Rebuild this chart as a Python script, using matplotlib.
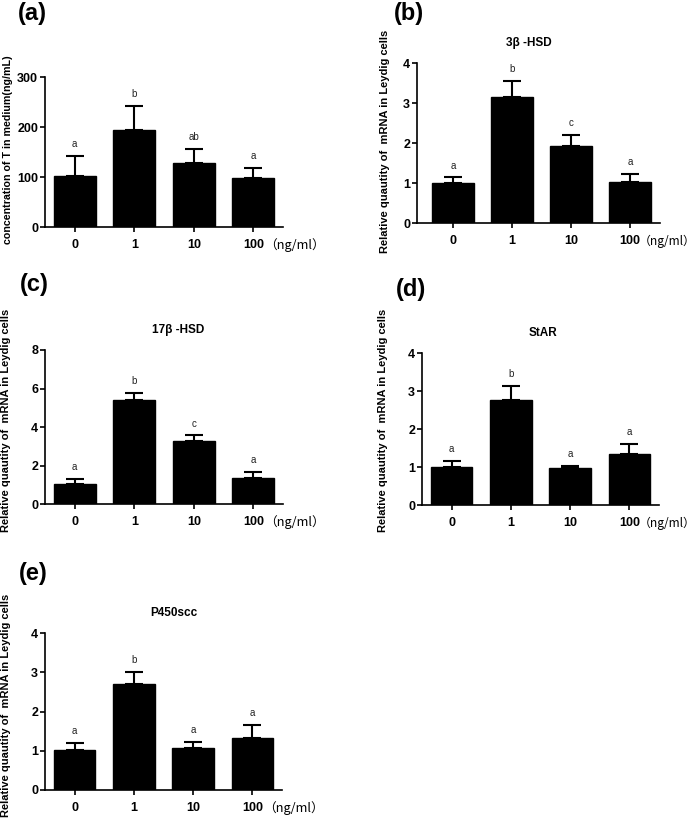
import matplotlib
matplotlib.use("Agg")
import matplotlib.pyplot as plt
from matplotlib import font_manager
import numpy as np

# keep the narrow variant from being picked for bold text
font_manager.fontManager.ttflist = [f for f in font_manager.fontManager.ttflist
                                    if 'Narrow' not in f.fname]
font_manager.fontManager._findfont_cached.cache_clear()
plt.rcParams['font.family'] = ['Liberation Sans', 'DejaVu Sans']

doses = ['0', '1', '10', '100']

t_mean = [102, 194, 128, 99]
t_err = [40, 49, 28, 20]
t_letters = ['a', 'b', 'ab', 'a']

hsd3_mean = [1.01, 3.15, 1.93, 1.03]
hsd3_err = [0.13, 0.41, 0.27, 0.19]
hsd3_letters = ['a', 'b', 'c', 'a']

hsd17_mean = [1.05, 5.41, 3.25, 1.36]
hsd17_err = [0.25, 0.38, 0.31, 0.30]
hsd17_letters = ['a', 'b', 'c', 'a']

star_mean = [1.01, 2.77, 0.97, 1.35]
star_err = [0.14, 0.37, 0.06, 0.26]
star_letters = ['a', 'b', 'a', 'a']

p450_mean = [1.01, 2.70, 1.06, 1.32]
p450_err = [0.19, 0.30, 0.16, 0.34]
p450_letters = ['a', 'b', 'a', 'a']

W, H = 697, 826
fig = plt.figure(figsize=(W / 100, H / 100), dpi=100)
unit_texts = []


def px_axes(left, right, top, bottom):
    # pixel box -> figure fraction
    return fig.add_axes([left / W, 1 - bottom / H, (right - left) / W, (bottom - top) / H])


def draw_panel(ax, means, errs, letters, ymax, ystep, xlim=(-0.5, 3.5), unit_dx=8, unit_fs=9.2):
    x = np.arange(len(doses))
    ax.bar(x, means, width=0.7, color='black', edgecolor='black', zorder=2)
    ax.errorbar(x, means, yerr=[np.zeros(len(errs)), errs], fmt='none',
                ecolor='black', elinewidth=1.5, capsize=6.5, capthick=1.5, zorder=3)
    for xi, m, e, lab in zip(x, means, errs, letters):
        ax.annotate(lab, xy=(xi, m + e), xytext=(0, 8.5), textcoords='offset points',
                    ha='center', va='center', fontsize=7, color='#222222')
    ax.set_xlim(*xlim)
    ax.set_ylim(0, ymax)
    ax.set_yticks(np.arange(0, ymax + ystep / 2, ystep))
    ax.set_xticks(x)
    ax.set_xticklabels(doses)
    for s in ['top', 'right']:
        ax.spines[s].set_visible(False)
    for s in ['left', 'bottom']:
        ax.spines[s].set_linewidth(1.2)
    ax.tick_params(axis='both', direction='out', length=3.5, width=1.2)
    ax.tick_params(axis='x', pad=5)
    ax.tick_params(axis='y', pad=1.5)
    for lab in ax.get_xticklabels() + ax.get_yticklabels():
        lab.set_fontweight('bold')
        lab.set_fontsize(9)
    t = ax.annotate('（ng/ml）', xy=(1, 0), xycoords='axes fraction', xytext=(unit_dx, -13),
                    textcoords='offset points', ha='center', va='center', fontsize=unit_fs,
                    family=['Noto Sans CJK SC', 'DejaVu Sans'])
    unit_texts.append(t)


def add_title(ax, text, xf):
    ax.annotate(text, xy=(xf, 1), xycoords='axes fraction', xytext=(0, 14.4),
                textcoords='offset points', ha='center', va='center',
                fontsize=8.5, fontweight='bold')


ylab = 'Relative quautity of  mRNA in Leydig cells'

# (a)
ax_a = px_axes(45, 283, 77, 227)
draw_panel(ax_a, t_mean, t_err, t_letters, 300, 100)
fig.text(8 / W, 1 - 150 / H, 'concentration of T in medium(ng/mL)', rotation=90,
         ha='center', va='center', fontsize=7.7, fontweight='bold')

# (b)
ax_b = px_axes(417, 660, 63, 223)
draw_panel(ax_b, hsd3_mean, hsd3_err, hsd3_letters, 4, 1, xlim=(-0.61, 3.51),
           unit_dx=8, unit_fs=8.6)
add_title(ax_b, '3β -HSD', 0.46)
fig.text(385 / W, 1 - 141 / H, ylab, rotation=90, ha='center', va='center',
         fontsize=8, fontweight='bold')

# (c)
ax_c = px_axes(45, 283, 350, 504)
draw_panel(ax_c, hsd17_mean, hsd17_err, hsd17_letters, 8, 2)
add_title(ax_c, '17β -HSD', 0.56)
fig.text(6 / W, 1 - 420 / H, ylab, rotation=90, ha='center', va='center',
         fontsize=8, fontweight='bold')

# (d)
ax_d = px_axes(422, 659, 353, 505)
draw_panel(ax_d, star_mean, star_err, star_letters, 4, 1, unit_dx=8, unit_fs=8.6)
add_title(ax_d, 'StAR', 0.51)
fig.text(383 / W, 1 - 420 / H, ylab, rotation=90, ha='center', va='center',
         fontsize=8, fontweight='bold')

# (e)
ax_e = px_axes(45, 282, 633, 790)
draw_panel(ax_e, p450_mean, p450_err, p450_letters, 4, 1)
add_title(ax_e, 'P450scc', 0.545)
fig.text(6 / W, 1 - 705 / H, ylab, rotation=90, ha='center', va='center',
         fontsize=8, fontweight='bold')

# panel letters
for lab, px, py in [('(a)', 18, 2), ('(b)', 394, 2), ('(c)', 20, 273),
                    ('(d)', 396, 278), ('(e)', 19, 562)]:
    fig.text(px / W, 1 - py / H, lab, ha='left', va='top', fontsize=17, fontweight='bold')

# pull the unit labels back inside the right edge
fig.canvas.draw()
r = fig.canvas.get_renderer()
for t in unit_texts:
    bb = t.get_window_extent(r)
    if bb.x1 > W - 1:
        dx, dy = t.xyann
        t.xyann = (dx - (bb.x1 - (W - 1)) * 72 / 100, dy)

fig.savefig('out.png', dpi=100)
